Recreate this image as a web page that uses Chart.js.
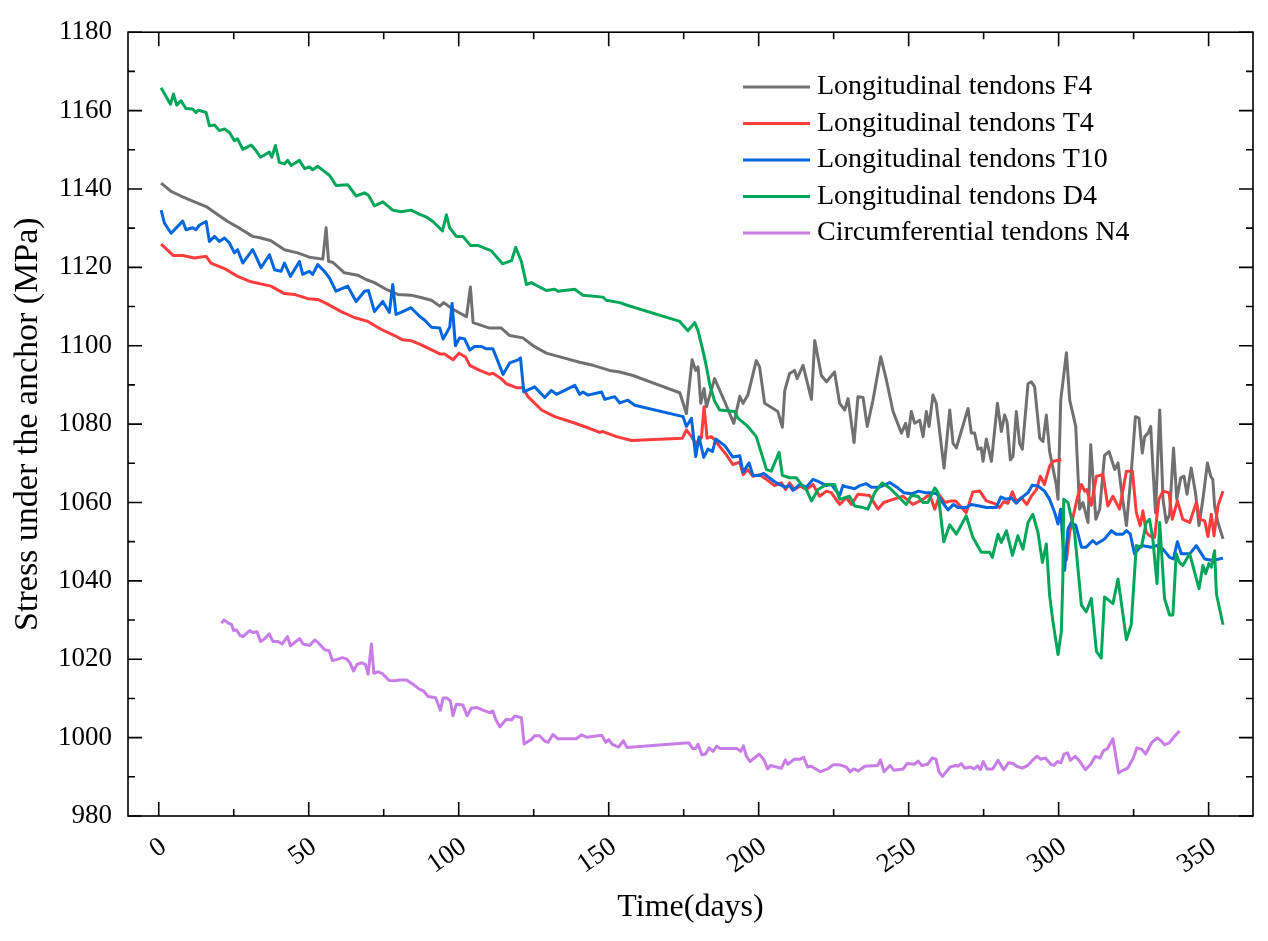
<!DOCTYPE html>
<html>
<head>
<meta charset="utf-8">
<title>Stress under the anchor</title>
<script src="https://cdn.jsdelivr.net/npm/chart.js@4.4.1/dist/chart.umd.min.js"></script>
<style>
  html, body { margin: 0; padding: 0; background: #fff; }
  canvas { display: block; }
</style>
</head>
<body>
<canvas id="chart" width="1268" height="941"></canvas>
<script>
// [day, stress MPa]
const f4 = [
  [0.8,1141.5],[4.1,1139.4],[7.4,1138.2],[11.9,1136.7],[15.8,1135.5],[19.7,1133.4],[23,1131.7],[26.9,1130],
  [31.3,1127.9],[34.1,1127.5],[37.4,1126.8],[41.9,1124.5],[46.3,1123.7],[50.2,1122.6],[54.7,1122.1],[55.8,1130.1],
  [56.6,1121.5],[58,1121.3],[61.9,1118.6],[66.3,1118],[69.1,1116.9],[71.9,1116.1],[75.8,1114.4],[79.7,1113.1],
  [84.1,1112.9],[87.4,1112.3],[90.9,1111.6],[93.7,1110.1],[95,1111],[98.1,1109.3],[102.6,1107.4],[103.9,1115],
  [104.8,1105.9],[110.3,1104.5],[114.2,1104.5],[117,1102.6],[121.4,1102],[124.8,1100],[129.2,1098.1],[135.9,1096.7],
  [140.3,1095.8],[144.8,1095],[150.3,1093.7],[153.7,1093.3],[158.1,1092.4],[167,1089.9],[173.7,1088],[175.9,1082.7],
  [177.8,1096.4],[179,1093.7],[179.8,1094.6],[180.7,1085.3],[181.8,1089.1],[182.6,1084.4],[185.3,1091.6],[188.7,1085.7],
  [191.7,1080.2],[193.7,1087.1],[194.8,1085.3],[196.4,1087.4],[199.2,1096.2],[200.3,1094.6],[202,1085.3],[206.4,1083.2],
  [207.9,1079.2],[208.7,1088.6],[210.3,1092.9],[212,1093.7],[212.8,1091.6],[214.8,1095],[217.6,1086.3],[218.7,1101.3],
  [220.9,1092.4],[222.6,1090.8],[225.3,1093.3],[227,1085.3],[228.7,1083.6],[229.8,1086.5],[231.8,1075.3],[233.1,1087],
  [234.8,1086.8],[236.2,1079.4],[238.1,1086.1],[240.7,1097.2],[242.6,1091.2],[244.8,1083.2],[247.6,1077.7],[249,1080.2],
  [249.8,1076.8],[250.9,1083.2],[252,1080.2],[253.7,1081],[254.8,1076.8],[255.9,1083.2],[256.8,1079.4],[258.1,1087.4],
  [259.2,1085.3],[261.8,1068.8],[263.7,1083.6],[264.8,1075.1],[265.9,1073.9],[269.8,1084],[270.9,1077.7],[272,1077.7],
  [273.1,1073.6],[274.2,1073.9],[274.8,1070.5],[275.9,1076.2],[277.6,1070.5],[279.6,1085.3],[280.9,1078.1],[282,1082.3],
  [282.8,1080.6],[283.9,1070.9],[284.8,1071.8],[285.9,1083.2],[287,1075.1],[287.9,1073.6],[289.8,1090.3],[290.9,1090.8],
  [292,1089.5],[293.7,1076.4],[294.8,1075.6],[295.9,1082.3],[297,1073],[299.2,1064.6],[299.8,1060.8],[300.7,1086.1],
  [302.6,1098.2],[303.7,1086.1],[305.7,1079.4],[307,1058.3],[308.1,1060],[309.8,1054.9],[310.7,1074.7],[312.4,1055.7],
  [313.7,1058.3],[315.3,1072],[316.8,1073],[318.7,1068.4],[319.8,1070.1],[320.9,1063.3],[322.6,1054.1],[324.2,1067.5],
  [325.6,1081.9],[326.8,1081.5],[327.9,1072.6],[328.7,1076.8],[329.8,1077.7],[330.7,1079.4],[331.4,1069.3],[332.3,1057.4],
  [333.7,1083.6],[334.8,1060.8],[335.9,1054.9],[337,1057],[338.3,1073.9],[339.4,1060.8],[340.7,1066.3],[341.8,1066.7],
  [342.8,1062.1],[344.2,1068.8],[345.7,1062.1],[346.8,1054.1],[348.1,1060.8],[349.6,1070.1],[350.7,1066.7],[351.4,1065.9],
  [352,1059.1],[353.1,1054.9],[354.8,1050.7]
];

const t4 = [
  [0.8,1125.9],[4.9,1123],[8,1123],[11.9,1122.4],[13.6,1122.6],[15.8,1122.8],[17.4,1121.1],[21.9,1119.7],
  [26.3,1117.7],[30.8,1116.3],[37.4,1115.2],[41.9,1113.3],[45.2,1113.1],[49.7,1112],[53,1111.8],[56.3,1110.6],
  [60.8,1108.7],[65.2,1107.2],[69.7,1106.2],[74.1,1104.2],[78.6,1102.6],[81.3,1101.5],[84.1,1101.3],[87,1100.4],
  [90.3,1099.2],[93.7,1097.9],[95.3,1097.9],[98.1,1096.4],[100.1,1098.1],[102.3,1097.1],[103.7,1095],[107,1093.7],
  [110.3,1092.7],[111.4,1093],[114.2,1091.6],[115.9,1090.3],[119.2,1089.3],[121.4,1089.3],[123.1,1087],[127.6,1083.6],
  [132,1081.9],[138.1,1080.4],[142.6,1079.2],[147,1077.9],[148.1,1078.1],[152.6,1076.8],[157.6,1075.8],[174.6,1076.4],
  [175.9,1078.5],[177.6,1076.8],[179,1075.1],[180.9,1076.4],[181.8,1084.4],[182.8,1076.4],[184.2,1076.8],[185.3,1076],
  [187,1074.3],[189.2,1072.2],[191.4,1069.7],[193.7,1070.3],[194.8,1067.1],[196.4,1068.4],[198.1,1066.7],[200.3,1067.1],
  [202.6,1065.9],[205.3,1064.3],[207.6,1065],[209,1063.3],[210.3,1065],[212,1063.3],[213.7,1064.2],[215.9,1063.3],
  [218.1,1064.6],[220.3,1061.6],[222.6,1062.9],[224.2,1062.5],[227,1059.5],[229.2,1061.2],[230.9,1059.5],[233.1,1062.1],
  [237,1061.8],[239.8,1058.3],[241.7,1060],[244.8,1060.8],[248.1,1061.6],[251.4,1059.5],[254.8,1060.8],[257,1062.1],
  [258.7,1058.3],[260.3,1061.8],[262,1060],[264.2,1060.4],[265.7,1060.4],[267.6,1058.7],[269.2,1057.4],[271.4,1062.7],
  [273.7,1062.9],[275.9,1060.4],[277.6,1060],[279.2,1059.5],[280.3,1058.7],[281.7,1060.2],[283.1,1059.8],[284.6,1062.7],
  [285.9,1060.2],[287.6,1061.2],[289.4,1059.5],[290.9,1061.6],[292.6,1063.3],[293.9,1066.7],[295.3,1064.6],[297,1069.3],
  [298.1,1070.5],[300.9,1070.9],[301.8,null],
  [302.6,1045.2],[303.7,1052.4],[305,1057],[306.4,1061.6],[307.6,1064.6],[308.7,1062.9],[309.4,1063.3],[310.9,1059.3],
  [312.6,1066.7],[314.8,1067.1],[316.4,1059.1],[318.1,1061.6],[320.3,1058.3],[322.6,1068],[324.6,1068],[325.9,1057.4],
  [327.2,1054.1],[328.1,1057.9],[329.2,1052.4],[330.3,1051.5],[332,1051.1],[333.4,1060.8],[334.8,1062.9],[336.8,1062.5],
  [337.9,1055.7],[339.6,1060.4],[341.4,1055.7],[343.7,1054.9],[345.9,1060],[347.2,1055.7],[348.7,1055.3],[349.8,1051.3],
  [350.9,1057],[351.8,1051.5],[353.1,1059.1],[354.8,1062.9]
];

const t10 = [
  [0.8,1134.6],[1.9,1131.3],[4.1,1128.7],[8,1131.8],[9.1,1129.6],[11.3,1130.1],[12.4,1129.6],[13.6,1130.8],
  [15.8,1131.7],[16.9,1126.6],[18.6,1127.9],[20.2,1126.6],[21.9,1127.5],[23.6,1126.2],[25.2,1123.7],[26.3,1124.5],
  [28,1121.1],[31.3,1124.5],[32.4,1122.8],[34.1,1119.9],[36.9,1123.2],[38.6,1119.4],[40.8,1119],[41.9,1121.1],
  [43.9,1117.7],[46.9,1121.5],[48,1118.2],[50.2,1119],[51.3,1118.2],[53,1120.7],[55.2,1119],[56.9,1117.3],
  [59.1,1113.9],[63,1115.2],[65.8,1111.3],[68.6,1113.9],[69.9,1114.1],[71.9,1108.7],[74.7,1111.3],[76.9,1108.5],
  [78,1115.6],[79.1,1108],[80.8,1108.5],[84.1,1109.7],[87,1107.5],[88.7,1106.5],[90.9,1104.7],[93.7,1104.5],
  [94.8,1101.7],[97,1104.7],[97.8,1110.8],[98.9,1100],[100.3,1102],[102,1101.7],[103.7,1098.9],[105.3,1099.8],
  [107.6,1099.8],[109.2,1099.2],[111.4,1099.2],[114.8,1092.7],[117,1095.6],[119.8,1096.4],[120.6,1096.9],[121.7,1088.2],
  [125.3,1089.5],[128.7,1086.8],[130.9,1088.6],[132.6,1087.6],[138.7,1089.9],[140.3,1087.6],[141.4,1088.2],[143.1,1087.4],
  [147.6,1088.2],[148.7,1086.3],[152,1087],[153.7,1085.4],[156.4,1086.1],[158.7,1084.8],[174.8,1081.9],[175.9,1079.4],
  [177.6,1081.5],[179,1071.7],[180.1,1076.7],[181.7,1071.5],[183.1,1073.6],[184.6,1073],[185.7,1076.2],[188.7,1074.5],
  [191.4,1071.6],[193.7,1071.9],[194.8,1067.7],[196.8,1070.1],[198.1,1066.9],[200.3,1066.9],[201.7,1067.4],[205.3,1065.3],
  [208.7,1063.9],[210.3,1064.3],[211.4,1063.1],[213.7,1064.6],[215.9,1063.9],[218.1,1065.9],[219.8,1065.4],[222.6,1064.3],
  [224.2,1064.6],[227,1061.8],[228.1,1064.3],[229.2,1064],[232,1063.5],[233.7,1064.3],[235.9,1064.8],[237.6,1063.9],
  [240.3,1063.9],[243.7,1065.1],[246.1,1063.9],[248.3,1062.5],[251.1,1062.2],[253.3,1062.9],[255.6,1062.5],[257.8,1062.5],
  [259.4,1062.2],[261.1,1060.2],[263.1,1058.1],[265,1059.5],[266.4,1058.7],[269.2,1058.7],[270.9,1059.5],[274.8,1058.9],
  [275.9,1058.7],[279.2,1058.7],[280.7,1061.4],[282.6,1060.8],[284.2,1061.2],[285.9,1059.8],[287.6,1061.2],[289.8,1062.5],
  [291.2,1064.4],[293.1,1064.2],[295.3,1062.9],[297,1060.8],[298.7,1057.4],[299.8,1054.5],[300.7,1058.3],[302,1042.7],
  [303.1,1053.2],[304.2,1054.9],[305.7,1054.2],[307.6,1048.6],[309.2,1048.6],[311.4,1050.3],[312.6,1049.4],[315.3,1050.7],
  [317.6,1052.8],[319.2,1051.9],[321.4,1051.9],[322.6,1052.8],[323.9,1051.9],[325.3,1046.9],[327.6,1049],[330.9,1048.6],
  [332.6,1049],[334.8,1048.1],[337,1046],[338.3,1045.6],[339.6,1050],[340.9,1046.9],[343.7,1046.9],[345.9,1049],
  [348.7,1045.6],[351.4,1045.2],[354.8,1045.8]
];

const d4 = [
  [0.8,1165.8],[3.9,1161.6],[4.9,1164.2],[6,1161.4],[7.4,1162.5],[9.1,1160.5],[11.3,1160.4],[12.4,1159.5],
  [13.2,1160.1],[15.8,1159.5],[16.9,1156.1],[18.6,1156.3],[20.2,1154.9],[21.9,1155.3],[23.6,1154.4],[25.2,1152.3],
  [26.3,1152.8],[28,1150.1],[30.8,1151.2],[32.4,1149.8],[33.9,1148.1],[36.9,1149.4],[37.7,1148.1],[38.9,1151.1],
  [40.2,1146.8],[41.9,1146.4],[43,1147.3],[44.1,1146],[46.9,1147.3],[48.6,1145.2],[50.2,1145.6],[51.3,1144.9],
  [53,1145.8],[55.2,1144.5],[56.9,1143.5],[59.1,1140.9],[63,1141.1],[65.8,1138.2],[68.6,1139],[69.9,1138.4],
  [71.9,1135.7],[74.7,1136.7],[78,1134.6],[80.8,1134.2],[84.1,1134.6],[87,1133.5],[89.1,1132.9],[91.4,1131.7],
  [94.6,1129.3],[95.9,1133.4],[97,1130.1],[99.2,1127.9],[101.4,1127.9],[103.9,1125.6],[106.4,1125.6],[110.9,1124.2],
  [114.6,1120.9],[117.6,1121.7],[119,1125.1],[120.9,1121.5],[122.6,1115.6],[124.2,1116.1],[129.2,1114.1],[132,1114.4],
  [133.1,1113.9],[138.7,1114.4],[141.4,1112.9],[148.1,1112.4],[149.2,1111.6],[153.7,1111],[155.9,1110.4],[173.7,1106.2],
  [176.4,1103.8],[178.7,1105.9],[179.8,1103.8],[181.4,1098.8],[182.6,1094.6],[183.7,1090],[185.3,1085.9],[187,1083.6],
  [192,1083.2],[193.1,1081.5],[196.4,1079.4],[199.2,1076.8],[200.9,1072.6],[202.6,1068.4],[204.2,1068],[206.8,1072.8],
  [207.9,1066.9],[210.3,1066.3],[212.6,1066.3],[214.2,1064.6],[215.9,1063.3],[217.6,1060.4],[219.8,1063.3],[222.6,1064.6],
  [225.3,1064.6],[227,1060.8],[228.7,1061.2],[230.3,1061.6],[232,1059.1],[234.8,1058.7],[236.4,1058.3],[238.7,1062.5],
  [241.2,1065],[243.7,1063.7],[249.2,1059.5],[250.9,1061.8],[253.1,1061.6],[254.8,1060],[256.4,1060],[258.7,1063.7],
  [259.8,1062.5],[261.7,1050],[263.7,1054.3],[265.9,1051.9],[269.2,1056.6],[271.4,1051.1],[274.2,1047.3],[277,1047.3],
  [277.9,1046],[279.8,1051.9],[280.9,1049.8],[282.6,1052.8],[284.6,1046.5],[286.4,1051.5],[288.1,1048.1],[289.8,1054.9],
  [291.4,1057],[293.1,1052.4],[294.6,1044.7],[295.9,1049.4],[297,1036.3],[298.1,1029.6],[299.8,1021.2],[300.9,1027],
  [301.4,1040.5],[301.7,1060.8],[303.1,1060],[305.3,1052.4],[307.6,1033.8],[309.2,1032.1],[310.9,1035.5],[312.6,1022],
  [314.2,1020.3],[315.3,1035.9],[318.1,1034.2],[319.8,1040.5],[322.6,1025],[324.2,1028.8],[325.9,1049],[327.6,1048.6],
  [329.2,1054.9],[330.3,1055.7],[331.4,1050.7],[332.8,1039.3],[333.7,1054.9],[335.3,1035.5],[337,1031.3],[338.1,1031.3],
  [339.2,1046.9],[340.3,1044.7],[341.4,1043.9],[343.7,1046.9],[346.8,1038],[348.1,1043.9],[349,1041.8],[350.1,1044.4],
  [350.9,1043.5],[352,1047.7],[352.6,1036.7],[354.8,1028.8]
];

const n4 = [
  [20.9,1029.2],[21.7,1030],[23.1,1029.3],[24.2,1028.9],[25,1027.3],[25.9,1027.5],[27.2,1026],[28.1,1025.8],
  [30.3,1027.3],[31.4,1026.8],[32.8,1027],[33.9,1024.5],[35.3,1025.2],[36.8,1026.5],[38.1,1024.5],[39.8,1024.5],
  [41.2,1023.9],[42.9,1025.8],[43.9,1023.4],[47,1025.3],[48.1,1023.9],[50.3,1023.5],[52,1024.9],[53.1,1024.3],
  [55.3,1022.4],[56.8,1022.2],[57.9,1019.7],[59.2,1019.9],[61.2,1020.4],[62.6,1020.1],[63.7,1019.1],[65,1017],
  [66.1,1018.7],[67.6,1019.1],[68.9,1018.7],[69.8,1016.2],[70.9,1023.9],[71.7,1016.4],[73.1,1016.8],[74.6,1016.3],
  [76.8,1014.6],[78.7,1014.5],[80.3,1014.7],[82.6,1014.7],[84.8,1013.6],[87,1012.3],[88.3,1011.9],[89.8,1010.5],
  [92.3,1010.2],[93.9,1007],[94.8,1010.1],[96.1,1010.1],[97.2,1009.4],[98.1,1005.6],[99.2,1008.5],[101.4,1008.3],
  [102.8,1005.6],[104.2,1007.5],[105.9,1007.7],[108.1,1007],[110.3,1006.4],[111.4,1006.8],[112.3,1004.7],[113.7,1002.8],
  [115.9,1004.7],[117.6,1004.5],[118.7,1005.5],[120.9,1005.1],[121.8,998.4],[124.2,999.5],[125.3,1000.5],[127,1000.5],
  [128.7,999.1],[129.8,998.8],[131.4,1000.8],[133.1,999.7],[139.2,999.7],[140.9,1000.7],[142.6,1000.1],[147.7,1000.6],
  [149,998.8],[150,999.5],[151.2,998.3],[153.3,997.6],[154.9,999.2],[156.1,997.5],[175.5,998.6],[176.8,998.6],
  [178,997.2],[178.9,997.2],[179.8,998.3],[181.1,995.6],[182.3,995.8],[183.5,997.4],[184.8,996.5],[186,997.8],
  [187.2,997.2],[192.8,997.2],[194,996.5],[194.9,997.9],[195.9,995.3],[197.1,993.9],[200.2,995.8],[201.8,994.3],
  [203,992],[203.9,992.9],[207.6,992.2],[208.9,994.3],[209.7,993.2],[211.9,994.5],[213.8,994.5],[215,995],
  [216.3,992.5],[217.5,992.7],[220.6,991.3],[223,992],[224.9,993.1],[226.8,993.1],[229.2,992.5],[230.5,991.3],
  [231.7,992],[233.2,991.5],[235.4,992.7],[239.7,992.9],[240.6,994.3],[241.8,991.3],[243.8,992.9],[245,991.7],
  [248.2,992],[249.5,993.4],[251.9,993.2],[253.2,994],[254.4,992.9],[256.3,993.2],[257.9,994.8],[259.1,994.5],
  [260.1,991.3],[261.3,990.1],[263.8,992.5],[265.6,992.9],[266.5,992.7],[267.5,993.4],[268.7,992.2],[270.6,992.5],
  [271.8,992],[273,992.8],[273.9,991.8],[274.9,993.9],[276.1,992],[278,992],[279.8,994.2],[281.7,991.8],
  [283.3,993.6],[284.8,993.4],[286,992.7],[287.9,992.2],[289.7,992.9],[291,994],[292.8,995.3],[294,994.5],
  [295.6,994.8],[297.4,993.2],[298.4,992.9],[299.6,993.9],[300.8,993.6],[301.8,995.8],[303,996.1],[303.9,994.2],
  [305.5,995.2],[306.8,994.2],[308.9,991.8],[310.7,993.2],[312.2,995.2],[313.8,994.8],[315,996.7],[316.3,997.2],
  [318.1,999.7],[320,991],[321.8,991.8],[323,992.2],[324.9,994.8],[326.1,997.4],[327.7,997],[329,995.8],
  [331.1,998.8],[332.9,999.9],[334,999.3],[335.3,998.2],[336.8,998.6],[338.5,1000.2],[340.3,1001.7]
];

const seriesLabels = [
  'Longitudinal tendons F4',
  'Longitudinal tendons T4',
  'Longitudinal tendons T10',
  'Longitudinal tendons D4',
  'Circumferential tendons N4'
];
const seriesColors = ['#707070', '#FF3C3C', '#0066DD', '#00A65A', '#C77CE6'];

const xTicks = [0, 50, 100, 150, 200, 250, 300, 350];
const xMinorTicks = [25, 75, 125, 175, 225, 275, 325];
const yMinorTicks = [990, 1010, 1030, 1050, 1070, 1090, 1110, 1130, 1150, 1170];

const FONT = '"Liberation Serif", "Times New Roman", serif';

const toPoints = (pairs) => pairs.map(([x, y]) => ({ x, y }));

// box around the plot, ticks pointing inward on all four sides
const frameTicks = {
  id: 'frameTicks',
  afterDraw(chart) {
    const { ctx, chartArea: a, scales: { x, y } } = chart;
    const major = 14;
    const minor = 7;
    ctx.save();
    ctx.strokeStyle = '#000';
    ctx.lineWidth = 1.6;
    ctx.strokeRect(a.left, a.top, a.right - a.left, a.bottom - a.top);
    ctx.beginPath();
    const xTick = (v, len) => {
      const px = x.getPixelForValue(v);
      ctx.moveTo(px, a.bottom); ctx.lineTo(px, a.bottom - len);
      ctx.moveTo(px, a.top); ctx.lineTo(px, a.top + len);
    };
    const yTick = (v, len) => {
      const py = y.getPixelForValue(v);
      ctx.moveTo(a.left, py); ctx.lineTo(a.left + len, py);
      ctx.moveTo(a.right, py); ctx.lineTo(a.right - len, py);
    };
    xTicks.forEach((v) => xTick(v, major));
    xMinorTicks.forEach((v) => xTick(v, minor));
    y.ticks.forEach((t) => yTick(t.value, major));
    yMinorTicks.forEach((v) => yTick(v, minor));
    ctx.stroke();
    ctx.restore();
  },
};

const legendBox = {
  id: 'legendBox',
  afterDraw(chart) {
    const { ctx } = chart;
    ctx.save();
    ctx.font = `28px ${FONT}`;
    ctx.textBaseline = 'middle';
    ctx.textAlign = 'left';
    chart.data.datasets.forEach((ds, i) => {
      const yy = 87 + i * 36.5;
      ctx.strokeStyle = ds.borderColor;
      ctx.lineWidth = 3;
      ctx.beginPath();
      ctx.moveTo(743, yy);
      ctx.lineTo(810, yy);
      ctx.stroke();
      ctx.fillStyle = '#000';
      ctx.fillText(ds.label, 817, yy);
    });
    ctx.restore();
  },
};

const makeSet = (i, pairs, order) => ({
  label: seriesLabels[i],
  data: toPoints(pairs),
  borderColor: seriesColors[i],
  backgroundColor: seriesColors[i],
  borderWidth: 3,
  borderJoinStyle: 'round',
  pointRadius: 0,
  tension: 0,
  fill: false,
  order,
});

new Chart(document.getElementById('chart'), {
  type: 'line',
  data: {
    datasets: [
      makeSet(0, f4, 5),
      makeSet(1, t4, 4),
      makeSet(2, t10, 3),
      makeSet(3, d4, 2),
      makeSet(4, n4, 1),
    ],
  },
  options: {
    responsive: false,
    animation: false,
    devicePixelRatio: 1,
    events: [],
    layout: { padding: { top: 26, right: 15, bottom: 0, left: 0 } },
    plugins: {
      legend: { display: false },
      tooltip: { enabled: false },
    },
    scales: {
      x: {
        type: 'linear',
        min: -10.25,
        max: 364.8,
        afterBuildTicks: (scale) => { scale.ticks = xTicks.map((v) => ({ value: v })); },
        afterFit: (scale) => { scale.height = 125; },
        grid: { display: false, drawTicks: false },
        border: { display: false },
        ticks: {
          color: '#000',
          font: { family: FONT, size: 27 },
          minRotation: 35,
          maxRotation: 35,
          labelOffset: 5,
          padding: 15,
          autoSkip: false,
          callback: (v) => String(v),
        },
        title: {
          display: true,
          text: 'Time(days)',
          color: '#000',
          font: { family: FONT, size: 32 },
          padding: { top: 0, bottom: 14 },
        },
      },
      y: {
        min: 980,
        max: 1180,
        afterFit: (scale) => { scale.width = 128; },
        grid: { display: false, drawTicks: false },
        border: { display: false },
        ticks: {
          stepSize: 20,
          color: '#000',
          font: { family: FONT, size: 27 },
          padding: 16,
          callback: (v) => String(v),
        },
        title: {
          display: true,
          text: 'Stress under the anchor (MPa)',
          color: '#000',
          font: { family: FONT, size: 34 },
          padding: { top: 8, bottom: 0 },
        },
      },
    },
  },
  plugins: [frameTicks, legendBox],
});
</script>
</body>
</html>
